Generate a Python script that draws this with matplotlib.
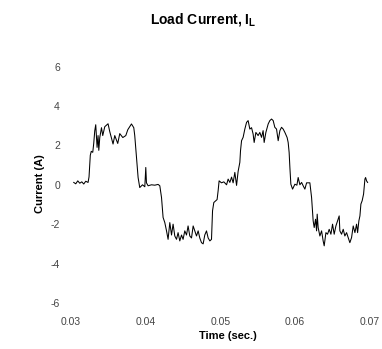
import numpy as np
import matplotlib.pyplot as plt

plt.rcParams['font.family'] = ['Liberation Sans', 'DejaVu Sans']
plt.rcParams['mathtext.fontset'] = 'custom'
plt.rcParams['mathtext.bf'] = 'Liberation Sans:bold'
plt.rcParams['mathtext.rm'] = 'Liberation Sans'
plt.rcParams['axes.unicode_minus'] = False

# time in ms
t_ms = [30.36, 30.63, 30.90, 31.17, 31.44, 31.70, 31.97, 32.28, 32.41, 32.58,
        32.71, 32.91, 33.04, 33.18, 33.31, 33.49, 33.62, 33.72, 33.85, 34.08,
        34.25, 34.52, 34.96, 35.19, 35.63, 35.86, 36.26, 36.53, 36.94, 37.34,
        37.61, 38.10, 38.41, 38.54, 38.77, 38.99, 39.21, 39.58, 39.89, 40.02,
        40.11, 40.33, 40.78, 41.23, 41.67, 41.90, 42.13, 42.34, 42.57, 42.80,
        43.01, 43.24, 43.47, 43.68, 43.91, 44.14, 44.35, 44.58, 44.81, 45.02,
        45.25, 45.48, 45.69, 45.92, 46.15, 46.37, 46.59, 46.82, 47.04, 47.26,
        47.49, 47.71, 47.93, 48.16, 48.38, 48.61, 48.83, 48.97, 49.14, 49.41,
        49.58, 49.72, 49.85, 50.17, 50.48, 50.85, 51.06, 51.29, 51.52, 51.73,
        51.96, 52.19, 52.40, 52.63, 52.72, 52.86, 53.07, 53.30, 53.53, 53.74,
        53.97, 54.20, 54.41, 54.55, 54.78, 55.08, 55.31, 55.54, 55.75, 55.89,
        56.12, 56.43, 56.65, 56.88, 57.10, 57.32, 57.55, 57.77, 58.00, 58.22,
        58.44, 58.67, 58.97, 59.11, 59.24, 59.34, 59.47, 59.70, 60.01, 60.28,
        60.45, 60.68, 60.91, 61.12, 61.35, 61.58, 62.02, 62.25, 62.46, 62.60,
        62.78, 62.92, 63.00, 63.13, 63.36, 63.59, 63.80, 63.94, 64.17, 64.39,
        64.61, 64.84, 65.06, 65.28, 65.51, 65.73, 65.95, 66.04, 66.27, 66.49,
        66.71, 66.94, 67.16, 67.38, 67.61, 67.83, 68.06, 68.28, 68.42, 68.59,
        68.73, 68.86, 69.03, 69.22, 69.40, 69.49, 69.62, 69.76]

current = [0.12, 0.05, 0.20, 0.08, 0.15, 0.04, 0.18, 0.12, 0.40, 1.50,
           1.70, 1.65, 2.10, 2.75, 3.05, 1.90, 2.50, 1.75, 2.40, 2.90,
           2.50, 2.95, 3.10, 2.70, 2.07, 2.50, 2.10, 2.60, 2.40, 2.50,
           2.80, 3.09, 2.90, 2.50, 1.39, 0.37, -0.14, 0.00, -0.10, 0.88,
           0.10, -0.05, 0.00, -0.02, 0.02, -0.05, -0.65, -1.66, -1.92, -2.34,
           -2.77, -1.92, -2.55, -2.00, -2.60, -2.77, -2.43, -2.85, -2.55, -2.77,
           -2.34, -2.55, -2.09, -2.60, -2.70, -2.09, -2.34, -2.60, -2.34, -2.70,
           -2.94, -3.00, -2.55, -2.34, -2.70, -2.85, -2.77, -1.32, -0.90, -0.81,
           -0.75, -0.30, 0.20, 0.10, 0.15, 0.00, 0.29, 0.12, 0.39, 0.10,
           0.63, -0.03, 0.68, 1.14, 1.73, 2.24, 2.41, 2.83, 3.17, 3.26,
           2.83, 2.90, 2.58, 2.15, 2.66, 2.50, 2.66, 2.41, 2.75, 2.15,
           2.66, 3.09, 3.26, 3.34, 3.26, 2.92, 2.83, 2.24, 2.75, 2.92,
           2.83, 2.66, 2.40, 2.15, 1.64, 0.88, 0.03, -0.22, 0.03, -0.02,
           0.37, 0.00, 0.12, -0.05, -0.22, 0.10, 0.10, -0.65, -1.83, -2.17,
           -1.75, -2.34, -1.49, -2.17, -2.60, -2.34, -2.85, -3.10, -2.43, -2.51,
           -2.26, -2.51, -2.00, -2.51, -2.09, -1.83, -1.58, -2.34, -2.51, -2.26,
           -2.60, -2.43, -2.68, -2.94, -2.68, -2.09, -2.43, -2.00, -2.43, -1.83,
           -1.58, -0.98, -0.81, -0.47, 0.29, 0.37, 0.20, 0.12]

x_ticks = [0.03, 0.04, 0.05, 0.06, 0.07]
y_ticks = [-6, -4, -2, 0, 2, 4, 6]

time = np.array(t_ms) / 1000.0

fig = plt.figure(figsize=(3.82, 3.49), dpi=100)
ax = fig.add_axes([0.186, 0.132, 0.781, 0.677])
ax.plot(time, current, color='black', lw=0.75)

ax.set_xlim(0.03, 0.07)
ax.set_ylim(-6, 6)
ax.set_xticks(x_ticks)
ax.set_xticklabels(['%.2f' % v for v in x_ticks])
ax.set_yticks(y_ticks)
ax.tick_params(axis='both', length=0, labelsize=7.5, colors='#444444')
ax.tick_params(axis='x', pad=10)
ax.tick_params(axis='y', pad=8)
for s in ax.spines.values():
    s.set_visible(False)

fig.text(0.531, 0.943, r'Load Current, $\mathbf{I_L}$', ha='center', va='center',
         fontsize=10, fontweight='bold')
fig.text(0.105, 0.473, 'Current (A)', rotation=90, ha='center', va='center',
         fontsize=8, fontweight='bold')
fig.text(0.597, 0.037, 'Time (sec.)', ha='center', va='center',
         fontsize=8, fontweight='bold')

fig.savefig('out.png', dpi=100)
